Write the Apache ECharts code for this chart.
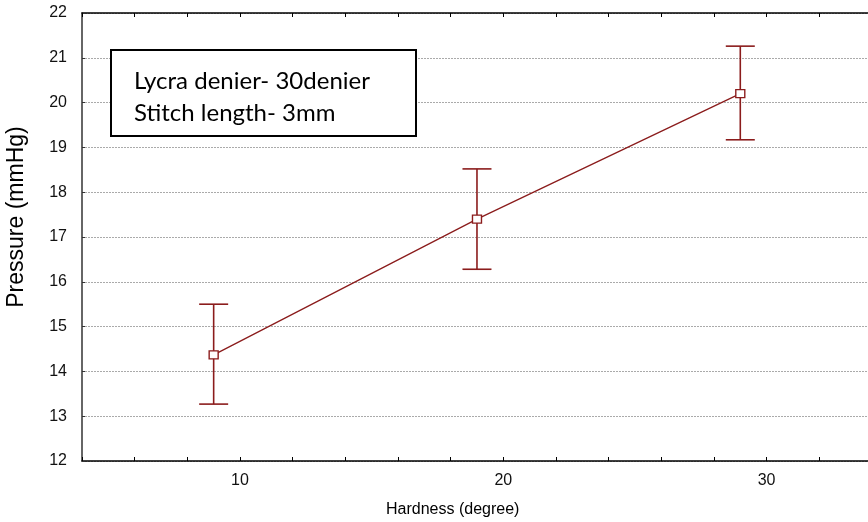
<!DOCTYPE html>
<html><head><meta charset="utf-8">
<script src="https://cdn.jsdelivr.net/npm/echarts@6/dist/echarts.min.js"></script>
<style>html,body{margin:0;padding:0;background:#fff}#c{width:868px;height:522px}</style>
</head><body><div id="c"></div>
<script>
const hardness = [9, 19, 29];
const pressureMean = [14.37, 17.40, 20.20];
const pressureLow = [13.27, 16.28, 19.17];
const pressureHigh = [15.50, 18.52, 21.26];
const xLabelValues = [10, 20, 30];
const boxLines = ['Lycra denier- 30denier', 'Stitch length- 3mm'];

const red = '#8b1c1c';
const chart = echarts.init(document.getElementById('c'));
const meanData = hardness.map((x, i) => [x, pressureMean[i]]);
const errData = hardness.map((x, i) => [x, pressureLow[i], pressureHigh[i]]);

chart.setOption({
  animation: false,
  grid: {left: 82, right: 0, top: 13, bottom: 61, show: false},
  xAxis: [{
    type: 'value', min: 4, max: 33.85, interval: 2,
    axisLine: {show: true, lineStyle: {color: '#000', width: 1.5}},
    axisTick: {show: true, inside: true, length: 4, lineStyle: {color: '#000'}},
    axisLabel: {color: '#111', fontFamily: 'Liberation Sans', fontSize: 16, margin: 12, showMaxLabel: false,
      formatter: v => xLabelValues.includes(v) ? String(v) : ''},
    splitLine: {show: false}
  }, {
    type: 'value', position: 'top', min: 4, max: 33.85, interval: 2,
    axisLine: {show: true, onZero: false, lineStyle: {color: '#000', width: 1.5}},
    axisTick: {show: true, inside: true, length: 4, lineStyle: {color: '#000'}},
    axisLabel: {show: false}, splitLine: {show: false}
  }],
  yAxis: {
    type: 'value', min: 12, max: 22, interval: 1,
    axisLine: {show: true, lineStyle: {color: '#333', width: 1.5}},
    axisTick: {show: true, inside: true, length: 3, lineStyle: {color: '#333'}},
    axisLabel: {color: '#111', fontFamily: 'Liberation Sans', fontSize: 16, margin: 15},
    splitLine: {show: true, lineStyle: {color: '#aaa', type: [2, 1], width: 1}}
  },
  graphic: [
    {type: 'text', x: 17, y: 217, rotation: Math.PI / 2, z: 10,
      style: {text: 'Pressure (mmHg)', fill: '#000', font: '23px "Liberation Sans"',
        textAlign: 'center', textVerticalAlign: 'middle'}},
    {type: 'text', x: 386, y: 502, z: 10,
      style: {text: 'Hardness (degree)', fill: '#000', font: '16px "Liberation Sans"'}},
    {type: 'rect', shape: {x: 111, y: 50, width: 305, height: 86}, z: 10,
      style: {fill: '#fff', stroke: '#000', lineWidth: 2}},
    {type: 'text', x: 134, y: 65, z: 11,
      style: {text: boxLines.join('\n'), fill: '#000', font: '24px Lato', lineHeight: 32}}
  ],
  series: [{
    type: 'line', data: meanData, xAxisIndex: 0,
    symbol: 'rect', symbolSize: [9, 8],
    itemStyle: {color: '#fff', borderColor: red, borderWidth: 1.3},
    lineStyle: {color: red, width: 1.3}, z: 5
  }, {
    type: 'custom', data: errData, xAxisIndex: 0, z: 4,
    renderItem: (params, api) => {
      const x = api.value(0);
      const lo = api.coord([x, api.value(1)]);
      const hi = api.coord([x, api.value(2)]);
      const hw = 14.5;
      const style = {stroke: red, lineWidth: 1.6};
      return {type: 'group', children: [
        {type: 'line', shape: {x1: lo[0], y1: lo[1], x2: hi[0], y2: hi[1]}, style},
        {type: 'line', shape: {x1: lo[0]-hw, y1: lo[1], x2: lo[0]+hw, y2: lo[1]}, style},
        {type: 'line', shape: {x1: hi[0]-hw, y1: hi[1], x2: hi[0]+hw, y2: hi[1]}, style}
      ]};
    }
  }]
});
</script></body></html>
